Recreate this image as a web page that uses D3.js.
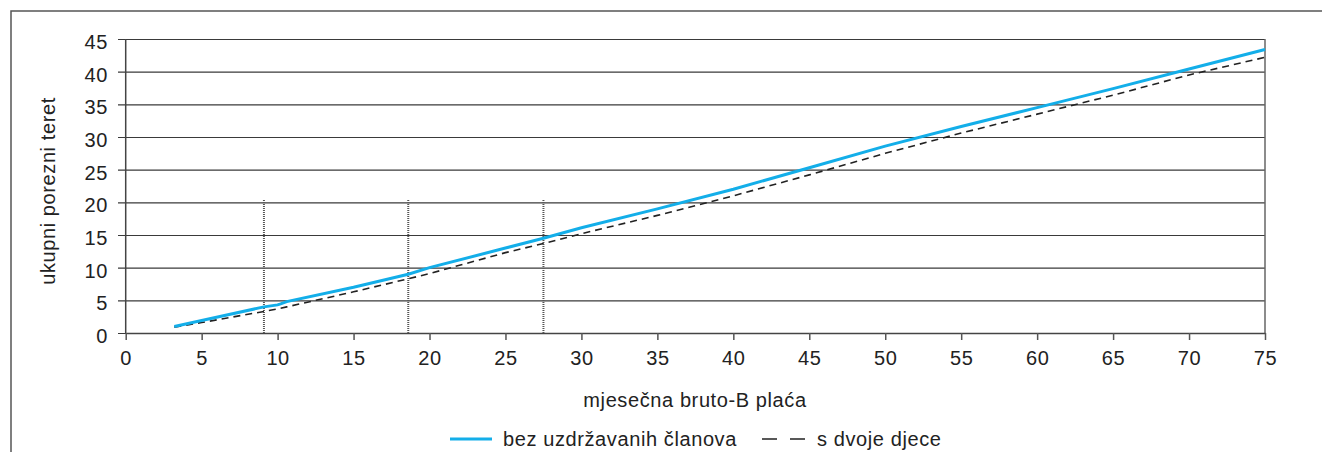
<!DOCTYPE html>
<html>
<head>
<meta charset="utf-8">
<script src="https://cdn.jsdelivr.net/npm/d3@7"></script>
<style>
  body { margin: 0; background: #fff; }
  text { font-family: "Liberation Sans", Arial, sans-serif; fill: #222; }
</style>
</head>
<body>
<div id="chart"></div>
<script>
// monthly gross-B wage (x) and total tax burden (y)
const placa = [3.2, 5, 9.1, 10, 10.2, 10.6, 15, 18.6, 20, 25, 27.5, 30, 35, 40, 45, 50, 55, 60, 65, 70, 75]
const bezClanova = [1.0, 1.9, 4.0, 4.3, 4.45, 4.8, 7.0, 9.0, 10.0, 13.0, 14.5, 16.1, 19.0, 22.0, 25.3, 28.6, 31.6, 34.5, 37.4, 40.4, 43.4]
const dvojeDjece = [0.9, 1.6, 3.3, 3.7, 3.8, 4.0, 6.3, 8.3, 9.1, 12.3, 13.7, 15.2, 18.0, 21.0, 24.2, 27.5, 30.6, 33.5, 36.4, 39.5, 42.2]

// vertical dotted marker lines (x position, height)
const markers = [9.1, 18.6, 27.5]
const markerTop = 20.5

const xTicks = d3.range(0, 76, 5)
const yTicks = d3.range(0, 46, 5)

const svgWidth = 1322
const svgHeight = 452

const plotLeft = 125.7
const plotRight = 1265
const plotTop = 39
const plotBottom = 333

const fontSize = 20
const spacing = 0.6

const x = d3.scaleLinear().domain([0, 75]).range([plotLeft, plotRight])
const y = d3.scaleLinear().domain([0, 45]).range([plotBottom, plotTop])

let svg = d3.select("#chart")
    .append("svg")
    .attr("width", svgWidth)
    .attr("height", svgHeight)

// outer frame
svg.append("rect")
    .attr("x", 11)
    .attr("y", 11)
    .attr("width", 1400)
    .attr("height", 500)
    .attr("fill", "none")
    .attr("stroke", "#555")
    .attr("stroke-width", 1.5)

// horizontal grid + y labels
let yAxis = svg.append("g")
    .attr("transform", `translate(${plotRight},0)`)
    .call(d3.axisLeft(y).tickValues(yTicks).tickSize(plotRight - 118).tickPadding(10))
yAxis.select(".domain").remove()
yAxis.selectAll(".tick line").attr("stroke", "#3a3a3a").attr("stroke-width", 1.2)
yAxis.selectAll(".tick text")
    .attr("font-size", fontSize)
    .attr("letter-spacing", spacing)
    .attr("dy", "0.47em")
    .attr("font-family", null)

// left and right plot borders
svg.append("line")
    .attr("x1", plotLeft).attr("x2", plotLeft)
    .attr("y1", plotTop).attr("y2", plotBottom)
    .attr("stroke", "#444").attr("stroke-width", 1.5)
svg.append("line")
    .attr("x1", plotRight).attr("x2", plotRight)
    .attr("y1", plotTop).attr("y2", plotBottom)
    .attr("stroke", "#666").attr("stroke-width", 1.5)

// x axis
let xAxis = svg.append("g")
    .attr("transform", `translate(0,${plotBottom})`)
    .call(d3.axisBottom(x).tickValues(xTicks).tickSize(7).tickSizeOuter(0).tickPadding(11))
xAxis.select(".domain").attr("stroke", "#444").attr("stroke-width", 1.5)
xAxis.selectAll(".tick line").attr("stroke", "#555").attr("stroke-width", 1.5)
xAxis.selectAll(".tick text")
    .attr("font-size", fontSize)
    .attr("letter-spacing", spacing)
    .attr("font-family", null)

// dotted markers
svg.selectAll(".marker")
    .data(markers)
    .enter()
    .append("line")
    .attr("class", "marker")
    .attr("x1", d => x(d)).attr("x2", d => x(d))
    .attr("y1", y(0)).attr("y2", y(markerTop))
    .attr("stroke", "#555")
    .attr("stroke-width", 2)
    .attr("stroke-dasharray", "1,1")

const line = d3.line()
    .x(d => x(d[0]))
    .y(d => y(d[1]))

svg.append("path")
    .datum(d3.zip(placa, dvojeDjece))
    .attr("d", line)
    .attr("fill", "none")
    .attr("stroke", "#222")
    .attr("stroke-width", 1.6)
    .attr("stroke-dasharray", "7,5")

svg.append("path")
    .datum(d3.zip(placa, bezClanova))
    .attr("d", line)
    .attr("fill", "none")
    .attr("stroke", "#13aee9")
    .attr("stroke-width", 3)

// axis titles
svg.append("text")
    .attr("x", 695)
    .attr("y", 407)
    .attr("text-anchor", "middle")
    .attr("font-size", fontSize)
    .attr("letter-spacing", spacing)
    .text("mjesečna bruto-B plaća")

svg.append("text")
    .attr("transform", "translate(55,191) rotate(-90)")
    .attr("text-anchor", "middle")
    .attr("font-size", fontSize)
    .attr("letter-spacing", spacing)
    .text("ukupni porezni teret")

// legend
svg.append("line")
    .attr("x1", 450).attr("x2", 492)
    .attr("y1", 439).attr("y2", 439)
    .attr("stroke", "#13aee9").attr("stroke-width", 3)
svg.append("text")
    .attr("x", 503).attr("y", 446)
    .attr("font-size", fontSize)
    .attr("letter-spacing", spacing)
    .text("bez uzdržavanih članova")

svg.append("line")
    .attr("x1", 762).attr("x2", 805)
    .attr("y1", 439).attr("y2", 439)
    .attr("stroke", "#222").attr("stroke-width", 1.6)
    .attr("stroke-dasharray", "15,13")
svg.append("text")
    .attr("x", 817).attr("y", 446)
    .attr("font-size", fontSize)
    .attr("letter-spacing", spacing)
    .text("s dvoje djece")
</script>
</body>
</html>
